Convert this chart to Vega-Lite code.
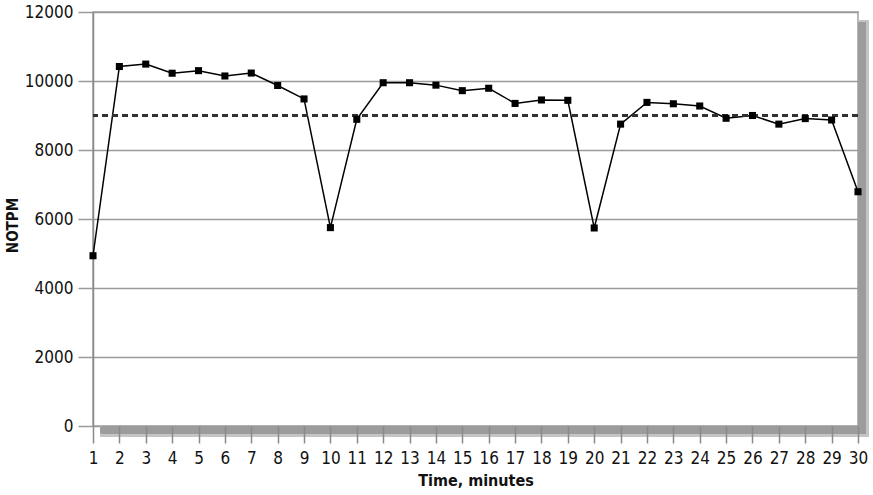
{
  "$schema": "https://vega.github.io/schema/vega-lite/v6.json",
  "autosize": "none",
  "padding": {"left": 93, "top": 12, "right": 15, "bottom": 69},
  "width": 765,
  "height": 414,
  "config": {
    "background": "white",
    "font": "DejaVu Sans Condensed, Roboto",
    "view": {"stroke": "#a0a0a0", "strokeWidth": 1.5}
  },
  "data": {
    "values": [
      {"minute": 1, "notpm": 4935},
      {"minute": 2, "notpm": 10420},
      {"minute": 3, "notpm": 10490},
      {"minute": 4, "notpm": 10225},
      {"minute": 5, "notpm": 10300},
      {"minute": 6, "notpm": 10145},
      {"minute": 7, "notpm": 10230},
      {"minute": 8, "notpm": 9870},
      {"minute": 9, "notpm": 9480},
      {"minute": 10, "notpm": 5750},
      {"minute": 11, "notpm": 8890},
      {"minute": 12, "notpm": 9950},
      {"minute": 13, "notpm": 9950},
      {"minute": 14, "notpm": 9880},
      {"minute": 15, "notpm": 9720},
      {"minute": 16, "notpm": 9790},
      {"minute": 17, "notpm": 9350},
      {"minute": 18, "notpm": 9450},
      {"minute": 19, "notpm": 9440},
      {"minute": 20, "notpm": 5740},
      {"minute": 21, "notpm": 8750},
      {"minute": 22, "notpm": 9380},
      {"minute": 23, "notpm": 9340},
      {"minute": 24, "notpm": 9275},
      {"minute": 25, "notpm": 8920},
      {"minute": 26, "notpm": 9000},
      {"minute": 27, "notpm": 8750},
      {"minute": 28, "notpm": 8910},
      {"minute": 29, "notpm": 8870},
      {"minute": 30, "notpm": 6790}
    ]
  },
  "layer": [
    {
      "mark": {"type": "line", "color": "black", "strokeWidth": 1.5},
      "encoding": {
        "x": {
          "field": "minute",
          "type": "quantitative",
          "scale": {"domain": [1, 30], "nice": false, "zero": false},
          "axis": {
            "values": [1,2,3,4,5,6,7,8,9,10,11,12,13,14,15,16,17,18,19,20,21,22,23,24,25,26,27,28,29,30],
            "tickCount": 30,
            "format": "d",
            "labelOverlap": false,
            "labelFlush": false,
            "grid": false,
            "zindex": 1,
            "domain": false,
            "tickSize": 17,
            "tickColor": "#8a8a8a",
            "tickWidth": 1.5,
            "labelFontSize": 17,
            "labelColor": "#111111",
            "labelPadding": 7,
            "title": "Time, minutes",
            "titleFontSize": 16,
            "titleFontWeight": "bold",
            "titleColor": "#111111",
            "titlePadding": 6
          }
        },
        "y": {
          "field": "notpm",
          "type": "quantitative",
          "scale": {"domain": [0, 12000], "nice": false},
          "axis": {
            "values": [0, 2000, 4000, 6000, 8000, 10000, 12000],
            "format": "d",
            "grid": true,
            "gridColor": "#9a9a9a",
            "gridWidth": 1.5,
            "domainColor": "#8a8a8a",
            "domainWidth": 1.5,
            "tickSize": 15,
            "tickColor": "#9a9a9a",
            "tickWidth": 1.5,
            "labelFontSize": 17,
            "labelColor": "#111111",
            "labelPadding": 5,
            "title": "NOTPM",
            "titleFontSize": 15,
            "titleFontWeight": "bold",
            "titleColor": "#111111",
            "titleBaseline": "middle",
            "titleX": -81,
            "titleY": 213
          }
        }
      }
    },
    {
      "mark": {"type": "rule", "color": "#333333", "strokeWidth": 1.5, "strokeDash": [6, 4]},
      "encoding": {
        "y": {"datum": 9000, "type": "quantitative"}
      }
    },
    {
      "mark": {"type": "rect", "color": "#c4c4c4", "clip": false},
      "encoding": {
        "x": {"datum": 30.02, "type": "quantitative"},
        "x2": {"datum": 30.4},
        "y": {"datum": 11760, "type": "quantitative"},
        "y2": {"datum": -300}
      }
    },
    {
      "mark": {"type": "rect", "color": "#c4c4c4", "clip": false},
      "encoding": {
        "x": {"datum": 1.27, "type": "quantitative"},
        "x2": {"datum": 30.4},
        "y": {"datum": -20, "type": "quantitative"},
        "y2": {"datum": -300}
      }
    },
    {
      "mark": {"type": "rect", "color": "#9c9c9c", "clip": false},
      "encoding": {
        "x": {"datum": 30.02, "type": "quantitative"},
        "x2": {"datum": 30.28},
        "y": {"datum": 11700, "type": "quantitative"},
        "y2": {"datum": -210}
      }
    },
    {
      "mark": {"type": "rect", "color": "#9c9c9c", "clip": false},
      "encoding": {
        "x": {"datum": 1.3, "type": "quantitative"},
        "x2": {"datum": 30.28},
        "y": {"datum": -20, "type": "quantitative"},
        "y2": {"datum": -210}
      }
    },
    {
      "mark": {"type": "point", "shape": "square", "size": 50, "filled": true, "color": "black", "opacity": 1, "clip": false},
      "encoding": {
        "x": {"field": "minute", "type": "quantitative"},
        "y": {"field": "notpm", "type": "quantitative"}
      }
    }
  ]
}
